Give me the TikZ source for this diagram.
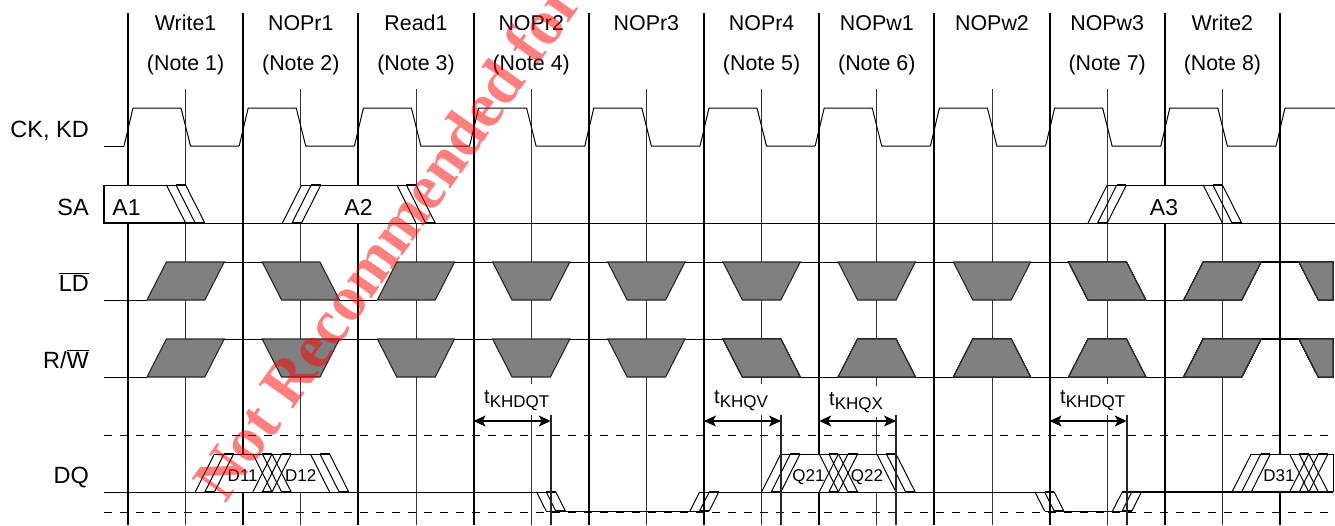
\documentclass[tikz,border=0pt]{standalone}
\usepackage{fontspec}
\setmainfont{Liberation Sans}
\newfontfamily\markfont{Liberation Serif}
\usetikzlibrary{arrows.meta}
\tikzstyle{cycleline} = [line width=2.1pt]
\tikzstyle{halfline} = [line width=0.8pt, black!80]
\tikzstyle{wave} = [line width=1pt]
\tikzstyle{boldwave} = [line width=1.6pt]
\tikzstyle{ctl} = [line width=1.1pt, draw=black!85, fill=black!50]
\tikzstyle{refline} = [line width=1pt, dash pattern=on 8pt off 8pt]
\tikzstyle{timeline} = [line width=1.4pt, black!85]
\tikzstyle{timearrow} = [<->, >={Stealth[length=12pt,width=11pt,inset=3pt]}, line width=1.1pt]
\tikzstyle{cycletext} = [font=\fontsize{21.4}{21.4}\selectfont, anchor=base, inner sep=0pt]
\tikzstyle{sigtext} = [font=\fontsize{23.5}{23.5}\selectfont, anchor=base east, inner sep=0pt]
\tikzstyle{bustext} = [font=\fontsize{23}{23}\selectfont, anchor=base, inner sep=0pt]
\tikzstyle{datatext} = [font=\fontsize{17}{17}\selectfont, anchor=base, inner sep=0pt]
\tikzstyle{timetext} = [font=\fontsize{20}{20}\selectfont, anchor=base west, inner sep=0pt, fill=white, text height=19pt, text depth=12pt]
\tikzstyle{marktext} = [font=\markfont\bfseries\fontsize{64}{64}\selectfont, anchor=base west, inner sep=0pt, text=red, text opacity=0.5]
\newcommand{\fallset}[4]{%
  \foreach \k in {0,9.6,19.2} \draw[wave] (#1+\k,#2) -- (#1+\k+#4,#3);
  \draw[boldwave] (#1+9.6,#2) -- (#1+19.2,#2) (#1+#4+9.6,#3) -- (#1+#4+19.2,#3);
}
\newcommand{\riseset}[4]{%
  \foreach \k in {0,9.6,19.2} \draw[wave] (#1+\k,#3) -- (#1+\k+#4,#2);
  \draw[boldwave] (#1+9.6,#3) -- (#1+19.2,#3) (#1+#4+9.6,#2) -- (#1+#4+19.2,#2);
}
\newcommand{\ctlrise}[3]{\draw[ctl] (#1-38.6,#3) -- (#1-19.2,#2) -- (#1+38.6,#2) -- (#1+19.2,#3) -- cycle;}
\newcommand{\ctlfall}[3]{\draw[ctl] (#1-38.6,#2) -- (#1+19.2,#2) -- (#1+38.6,#3) -- (#1-19.2,#3) -- cycle;}
\newcommand{\ctlvee}[3]{\draw[ctl] (#1-38.6,#2) -- (#1+38.6,#2) -- (#1+19.2,#3) -- (#1-19.2,#3) -- cycle;}
\newcommand{\ctlhat}[3]{\draw[ctl] (#1-38.6,#3) -- (#1-19.2,#2) -- (#1+19.2,#2) -- (#1+38.6,#3) -- cycle;}
\newcommand{\timelabel}[1]{t\raisebox{-4pt}{\fontsize{17}{17}\selectfont #1}}
\begin{document}
\begin{tikzpicture}[x=1pt, y=-1pt]
  \useasboundingbox (0,0) rectangle (1335,525);

  % cycle grid
  \foreach \n in {0,...,10} {
    \pgfmathsetmacro{\xa}{128+115.2*\n}
    \draw[cycleline] (\xa,12.5) -- (\xa,525);
  }
  \foreach \n in {0,...,9} {
    \pgfmathsetmacro{\xb}{185.6+115.2*\n}
    \draw[halfline] (\xb,89) -- (\xb,525);
  }

  % reference levels
  \draw[refline] (104,435) -- (1335,435);
  \draw[refline] (104,512) -- (1335,512);

  % CK, KD
  \draw[wave] (104,146) -- (124,146);
  \foreach \n in {0,...,9} {
    \pgfmathsetmacro{\xa}{128+115.2*\n}
    \draw[wave] (\xa-4,146) -- (\xa+5,108) -- (\xa+53,108) -- (\xa+62.5,146) -- (\xa+111.2,146);
  }
  \draw[wave] (1276,146) -- (1285,108) -- (1335,108);

  % SA
  \fill[white] (104,185) -- (185.6,185) -- (204.8,223) -- (104,223) -- cycle;
  \fill[white] (282.4,223) -- (301.6,185) -- (416,185) -- (435.2,223) -- cycle;
  \fill[white] (1107.2,223) -- (1126.4,185) -- (1203.2,185) -- (1222.4,223) -- cycle;
  \draw[wave] (104,223) -- (1335,223);
  \draw[wave] (185,185) -- (104,185);
  \draw[boldwave] (104,184.5) -- (104,223) -- (195,223);
  \draw[wave] (301.6,185) -- (416,185);
  \draw[wave] (1107.2,185) -- (1222.4,185);
  \fallset{166.4}{185}{223}{19.2}
  \riseset{282.4}{185}{223}{19.2}
  \fallset{396.8}{185}{223}{19.2}
  \riseset{1088}{185}{223}{19.2}
  \fallset{1203.2}{185}{223}{19.2}

  % LD
  \draw[wave] (104,300) -- (147,300);
  \draw[wave] (224,262) -- (262.2,262);
  \draw[wave] (339,300) -- (377.4,300);
  \draw[wave] (454,262) -- (1069,262);
  \draw[wave] (1146,300) -- (1184,300);
  \draw[boldwave] (1261,262) -- (1300,262);
  \ctlrise{185.6}{262}{300}
  \ctlfall{300.8}{262}{300}
  \ctlrise{416}{262}{300}
  \foreach \h in {531.2,646.4,761.6,876.8,992} \ctlvee{\h}{262}{300}
  \ctlfall{1107.2}{262}{300}
  \ctlrise{1222.4}{262}{300}
  \draw[ctl] (1299,262) -- (1333,262) -- (1333,300) -- (1318.4,300) -- cycle;

  % R/W
  \draw[wave] (104,377) -- (147,377);
  \draw[wave] (224,339) -- (723,339);
  \draw[wave] (800,377) -- (1184,377);
  \draw[boldwave] (1261,339) -- (1300,339);
  \ctlrise{185.6}{339}{377}
  \foreach \h in {300.8,416,531.2,646.4} \ctlvee{\h}{339}{377}
  \ctlfall{761.6}{339}{377}
  \foreach \h in {876.8,992,1107.2} \ctlhat{\h}{339}{377}
  \ctlrise{1222.4}{339}{377}
  \draw[ctl] (1299,339) -- (1333,339) -- (1333,377) -- (1318.4,377) -- cycle;

  % DQ
  \fill[white] (214.4,492) -- (233.6,454) -- (310.4,454) -- (329.6,492) -- cycle;
  \fill[white] (780.8,492) -- (800,454) -- (876.8,454) -- (896,492) -- cycle;
  \fill[white] (1251.2,492) -- (1270.4,454) -- (1333,454) -- (1333,492) -- cycle;
  \draw[wave] (104,492) -- (555.8,492);
  \draw[wave] (546.2,511) -- (709.2,511);
  \draw[wave] (699.6,492) -- (1054.2,492);
  \draw[wave] (1044.6,511) -- (1131.8,511);
  \draw[boldwave] (1122,492) -- (1333,492);
  \draw[wave] (214.4,454) -- (329.6,454);
  \draw[wave] (780.8,454) -- (896,454);
  \draw[wave] (1251.2,454) -- (1333,454) -- (1333,492);
  \riseset{195.2}{454}{492}{19.2}
  \riseset{252.8}{454}{492}{19.2}
  \fallset{252.8}{454}{492}{19.2}
  \fallset{310.4}{454}{492}{19.2}
  \riseset{761.6}{454}{492}{19.2}
  \riseset{819.2}{454}{492}{19.2}
  \fallset{819.2}{454}{492}{19.2}
  \fallset{876.8}{454}{492}{19.2}
  \riseset{1232}{454}{492}{19.2}
  \riseset{1289.6}{454}{492}{19.2}
  \fallset{1289.6}{454}{492}{19.2}
  \fallset{536.6}{492}{511}{9.6}
  \riseset{690}{492}{511}{9.6}
  \fallset{1035}{492}{511}{9.6}
  \riseset{1112.6}{492}{511}{9.6}

  % timing labels
  \node[timetext] (khdqtA) at (484,403) {\timelabel{KHDQT}};
  \node[timetext] (khqv)   at (714,403) {\timelabel{KHQV}};
  \node[timetext] (khqx)   at (829,405) {\timelabel{KHQX}};
  \node[timetext] (khdqtB) at (1060,403) {\timelabel{KHDQT}};

  \draw[timeline] (550.8,415) -- (550.8,525);
  \draw[timeline] (781,415) -- (781,525);
  \draw[timeline] (896,415) -- (896,525);
  \draw[timeline] (1126.8,415) -- (1126.8,525);

  \coordinate (khdqtAl) at (473.6,421);
  \coordinate (khdqtAr) at (550.8,421);
  \coordinate (khqvl)   at (704,421);
  \coordinate (khqvr)   at (781,421);
  \coordinate (khqxl)   at (819.2,421);
  \coordinate (khqxr)   at (896,421);
  \coordinate (khdqtBl) at (1049.6,421);
  \coordinate (khdqtBr) at (1126.8,421);
  \draw[timearrow] (khdqtAl) -- (khdqtAr);
  \draw[timearrow] (khqvl) -- (khqvr);
  \draw[timearrow] (khqxl) -- (khqxr);
  \draw[timearrow] (khdqtBl) -- (khdqtBr);

  % cycle names
  \node[cycletext] (cycA) at (185.6,30) {Write1};
  \node[cycletext] (cycB) at (300.8,30) {NOPr1};
  \node[cycletext] (cycC) at (416,30)   {Read1};
  \node[cycletext] (cycD) at (531.2,30) {NOPr2};
  \node[cycletext] (cycE) at (646.4,30) {NOPr3};
  \node[cycletext] (cycF) at (761.6,30) {NOPr4};
  \node[cycletext] (cycG) at (876.8,30) {NOPw1};
  \node[cycletext] (cycH) at (992,30)   {NOPw2};
  \node[cycletext] (cycI) at (1107.2,30){NOPw3};
  \node[cycletext] (cycJ) at (1222.4,30){Write2};

  \node[cycletext] (noteA) at (185.6,70) {(Note 1)};
  \node[cycletext] (noteB) at (300.8,70) {(Note 2)};
  \node[cycletext] (noteC) at (416,70)   {(Note 3)};
  \node[cycletext] (noteD) at (531.2,70) {(Note 4)};
  \node[cycletext] (noteF) at (761.6,70) {(Note 5)};
  \node[cycletext] (noteG) at (876.8,70) {(Note 6)};
  \node[cycletext] (noteI) at (1107.2,70){(Note 7)};
  \node[cycletext] (noteJ) at (1222.4,70){(Note 8)};

  % signal names
  \node[sigtext] (ck) at (89,137) {CK, KD};
  \node[sigtext] (sa) at (89,215) {SA};
  \node[sigtext] (ld) at (89,291) {$\overline{\mbox{LD}}$};
  \node[sigtext] (rw) at (89,368) {R/$\overline{\mbox{W}}$};
  \node[sigtext] (dq) at (89,483) {DQ};

  \node[bustext] (addrA) at (126.5,215) {A1};
  \node[bustext] (addrB) at (358.5,215) {A2};
  \node[bustext] (addrC) at (1164,215)  {A3};

  \node[datatext] (dataA) at (242.7,481) {D11};
  \node[datatext] (dataB) at (300.8,481) {D12};
  \node[datatext] (dataC) at (808.5,481) {Q21};
  \node[datatext] (dataD) at (867,481)   {Q22};
  \node[datatext] (dataE) at (1279,481)  {D31};

  % overprint
  \node[marktext, rotate=54.5] (mark) at (225,505) {Not Recommended for};
\end{tikzpicture}
\end{document}
